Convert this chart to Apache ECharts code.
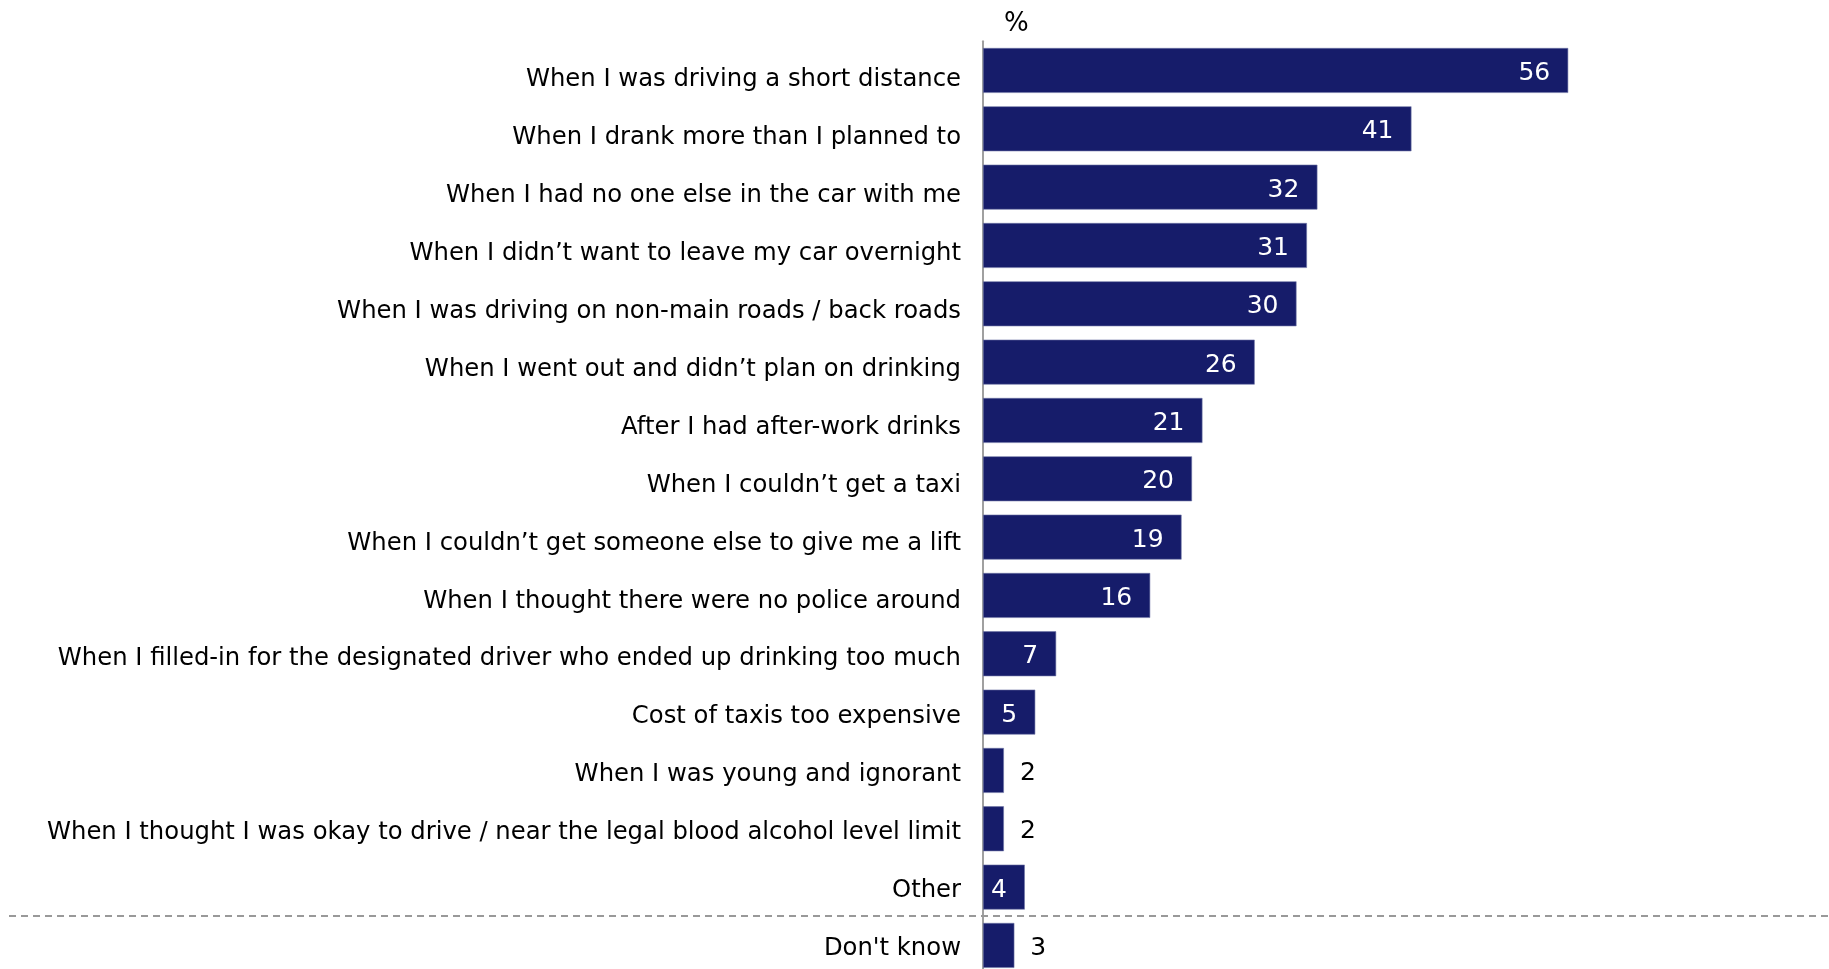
<!DOCTYPE html>
<html>
<head>
<meta charset="utf-8">
<script src="https://cdn.jsdelivr.net/npm/echarts@6/dist/echarts.min.js"></script>
<style>
  html, body { margin: 0; padding: 0; background: #ffffff; }
  #chart { width: 1829px; height: 969px; }
</style>
</head>
<body>
<div id="chart"></div>
<script>
// Reasons given for drink driving, % of respondents
const categories = [
  'When I was driving a short distance',
  'When I drank more than I planned to',
  'When I had no one else in the car with me',
  'When I didn\u2019t want to leave my car overnight',
  'When I was driving on non-main roads / back roads',
  'When I went out and didn\u2019t plan on drinking',
  'After I had after-work drinks',
  'When I couldn\u2019t get a taxi',
  'When I couldn\u2019t get someone else to give me a lift',
  'When I thought there were no police around',
  'When I filled-in for the designated driver who ended up drinking too much',
  'Cost of taxis too expensive',
  'When I was young and ignorant',
  'When I thought I was okay to drive / near the legal blood alcohol level limit',
  'Other',
  'Don\'t know'
];
const values = [56, 41, 32, 31, 30, 26, 21, 20, 19, 16, 7, 5, 2, 2, 4, 3];

const FONT = 'DejaVu Sans';
const BAR = '#161c6a';

const chart = echarts.init(document.getElementById('chart'));

// Small bars carry their value outside in black, the rest inside in white
const seriesData = values.map(v => ({
  value: v,
  label: v >= 4
    ? { position: 'insideRight', distance: 18, color: '#ffffff' }
    : { position: 'right', distance: 16, color: '#000000' }
}));

chart.setOption({
  animation: false,
  backgroundColor: '#ffffff',
  title: {
    text: '%',
    left: 999,
    top: 6,
    textStyle: { fontFamily: FONT, fontSize: 26, fontWeight: 'normal', color: '#000000' }
  },
  grid: [
    // bars
    { left: 983, width: 836, top: 41.3, height: 933.3, containLabel: false, outerBoundsMode: 'none' },
    // category captions, on a slightly tighter pitch than the bars
    { left: 983, width: 836, top: 47.5, height: 927.5, containLabel: false, outerBoundsMode: 'none' }
  ],
  xAxis: [
    { type: 'value', gridIndex: 0, min: 0, max: 80, show: false },
    { type: 'value', gridIndex: 1, min: 0, max: 80, show: false }
  ],
  yAxis: [
    {
      type: 'category',
      gridIndex: 0,
      data: categories,
      inverse: true,
      axisLine: { show: true, lineStyle: { color: '#a0a0a0', width: 2 } },
      axisTick: { show: false },
      splitLine: { show: false },
      axisLabel: { show: false }
    },
    {
      type: 'category',
      gridIndex: 1,
      data: categories,
      inverse: true,
      axisLine: { show: false },
      axisTick: { show: false },
      splitLine: { show: false },
      axisLabel: {
        margin: 22,
        formatter: v => '{t|' + v + '}',
        rich: {
          t: {
            fontFamily: FONT,
            fontSize: 24.3,
            color: '#000000',
            padding: [6, 0, 0, 0]
          }
        }
      }
    }
  ],
  series: [{
    type: 'bar',
    xAxisIndex: 0,
    yAxisIndex: 0,
    data: seriesData,
    barCategoryGap: '23%',
    itemStyle: { color: BAR, borderColor: '#6f76a6', borderWidth: 0.6 },
    label: {
      show: true,
      fontFamily: FONT,
      fontSize: 25,
      offset: [0, 3]
    }
  }]
});

// Dashed separator between the last answer and "Don't know", placed from the category scale
const yOther = chart.convertToPixel({ yAxisIndex: 0 }, 'Other');
const yDk = chart.convertToPixel({ yAxisIndex: 0 }, 'Don\'t know');
const ySep = Math.round((yOther + yDk) / 2);
chart.setOption({
  graphic: [{
    type: 'line',
    shape: { x1: 9, y1: ySep, x2: 1829, y2: ySep },
    style: { stroke: '#999999', lineWidth: 2, lineDash: [7, 5] },
    z: 10
  }]
});
</script>
</body>
</html>
